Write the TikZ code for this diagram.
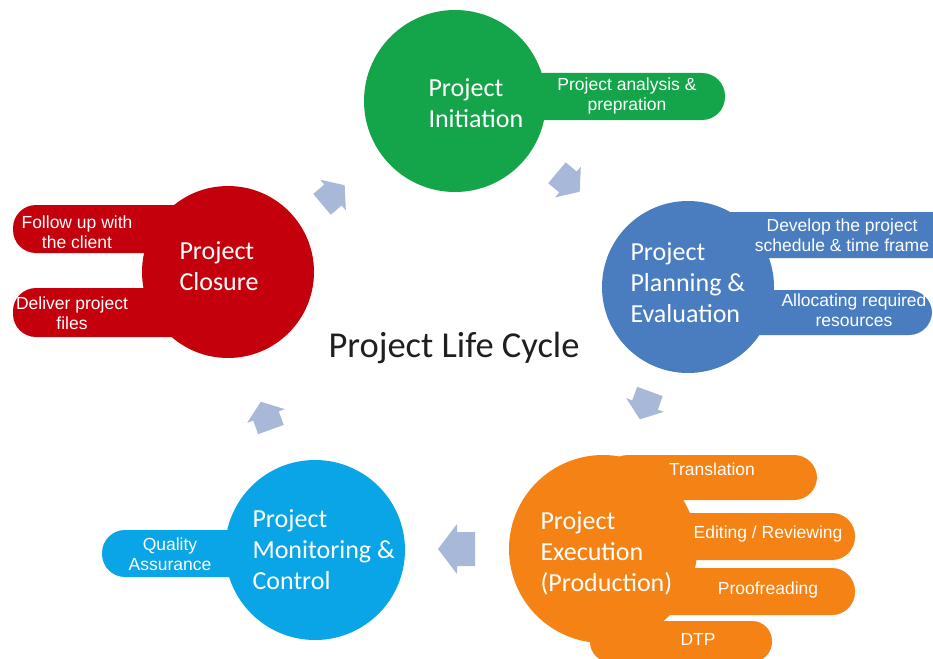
\documentclass[tikz,border=0pt]{standalone}
\usepackage{fontspec}
\setmainfont{Carlito}
\newfontfamily\tabfont{Liberation Sans}

\definecolor{initgreen}{HTML}{14A54B}
\definecolor{planblue}{HTML}{4A7DC0}
\definecolor{execorange}{HTML}{F58214}
\definecolor{monicyan}{HTML}{0AA5E6}
\definecolor{closered}{HTML}{C4000C}
\definecolor{flowblue}{HTML}{A7B8D8}
\definecolor{dkgray}{HTML}{1F1F1F}

\tikzset{
  stage/.style={circle, inner sep=0pt, minimum size=#1},
  stagetitle/.style={text=white, align=left, anchor=west,
    font=\fontsize{26}{31}\selectfont},
  tabtext/.style={text=white, align=center,
    font=\tabfont\fontsize{17.5}{20}\selectfont},
  tab/.style={rounded corners=23pt}
}

\begin{document}
\begin{tikzpicture}[x=1pt, y=-1pt]

% Page
\useasboundingbox (0,0) rectangle (933,658);
\fill[white] (0,0) rectangle (933,658);

% ── Side tabs (drawn first, the circles cover their inner ends) ──
\fill[initgreen, tab] (480,73) rectangle (725,120);
\fill[planblue, tab] (700,212) rectangle (960,258);
\fill[planblue, tab] (700,290) rectangle (932,335);
\fill[execorange, tab] (605,455) rectangle (817,500);
\fill[execorange, tab] (605,513) rectangle (855,560);
\fill[execorange, tab] (605,568) rectangle (855,615);
\fill[execorange, rounded corners=20pt] (590,621) rectangle (772,662);
\fill[monicyan, tab] (102,530) rectangle (300,577);
\fill[closered, tab] (13,205) rectangle (220,253);
\fill[closered, tab] (13,288) rectangle (220,337);

% ── Stage circles ──
\node[stage=182pt, fill=initgreen] (init) at (455,101) {};
\node[stage=172pt, fill=planblue] (plan) at (688,287) {};
\node[stage=188pt, fill=execorange] (exec) at (603,549) {};
\node[stage=180pt, fill=monicyan] (moni) at (315,550) {};
\node[stage=172pt, fill=closered] (close) at (228,272) {};

% ── Stage titles ──
\node[stagetitle] (init-title) at (425,103) {Project\\Initiation};
\node[stagetitle] (plan-title) at (627,283) {Project\\Planning \&\\Evaluation};
\node[stagetitle] (exec-title) at (537,553) {Project\\Execution\\(Production)};
\node[stagetitle] (moni-title) at (249,550) {Project\\Monitoring \&\\Control};
\node[stagetitle] (close-title) at (176,266) {Project\\Closure};

% ── Tab labels ──
\node[tabtext] (init-a) at (627,96) {Project analysis \&\\prepration};
\node[tabtext] (plan-a) at (842,235) {Develop the project\\schedule \& time frame};
\node[tabtext] (plan-b) at (854,310) {Allocating required\\resources};
\node[tabtext] (exec-a) at (712,469) {Translation};
\node[tabtext] (exec-b) at (768,534) {Editing / Reviewing};
\node[tabtext] (exec-c) at (768,590) {Proofreading};
\node[tabtext] (exec-d) at (698,639) {DTP};
\node[tabtext] (moni-a) at (170,554) {Quality\\Assurance};
\node[tabtext] (close-a) at (77,232) {Follow up with\\the client};
\node[tabtext] (close-b) at (72,313) {Deliver project\\files};

% ── Centre title ──
\node[text=dkgray, font=\fontsize{36.5}{40}\selectfont] (cycle) at (454,348)
  {Project Life Cycle};

% ── Block arrows between stages (x / y / angle / scale) ──
\foreach \x/\y/\a/\s in {333/195/40/0.8, 568/182/-40/0.8, 645/405/-110/0.8,
                         457/549/180/1, 266/416/110/0.8}
  \fill[flowblue, shift={(\x,\y)}, rotate=\a, scale=\s]
    (-18,-17) -- (0,-17) -- (0,-25) -- (19,0) -- (0,25) -- (0,17)
    -- (-18,17) -- cycle;

\end{tikzpicture}
\end{document}
